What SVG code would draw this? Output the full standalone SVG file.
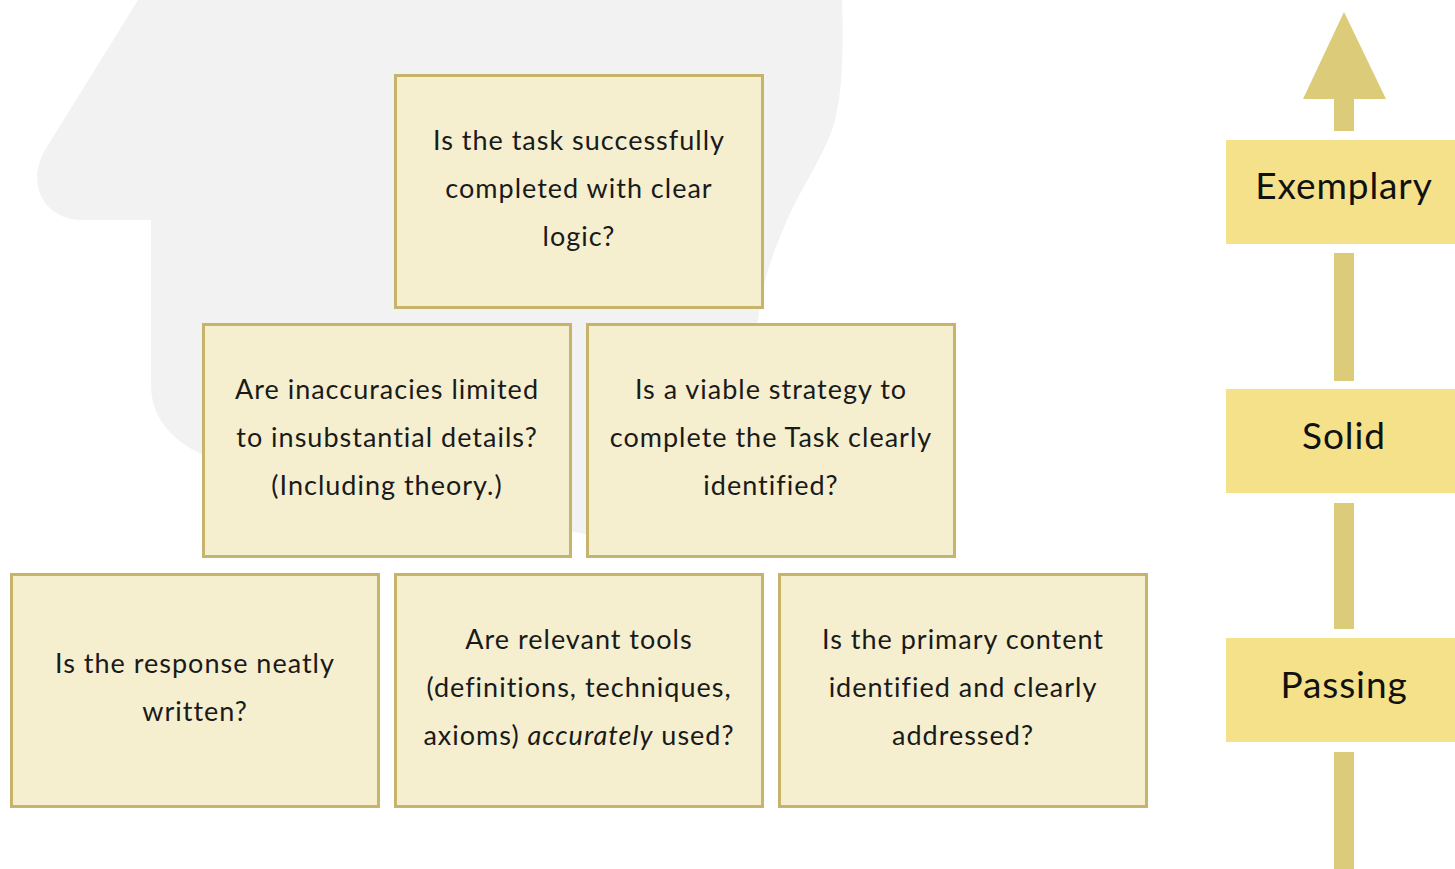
<svg xmlns="http://www.w3.org/2000/svg" width="1455" height="869" viewBox="0 0 1455 869">
  <style>
    .q rect { fill: #f5efcf; stroke: #c7b46c; stroke-width: 3; }
    .q text { font-family: Lato, "Noto Sans", sans-serif; font-size: 27px; letter-spacing: 1px; fill: #1a1a1a; text-anchor: middle; }
    .lvl rect { fill: #f4e189; }
    .lvl text { font-family: Lato, "Noto Sans", sans-serif; font-size: 37px; letter-spacing: 0.9px; fill: #111; text-anchor: middle; }
    .bar { fill: #dccb78; }
  </style>

  <!-- head silhouette behind the pyramid -->
  <path id="head" fill="#f2f2f2" d="M138,0 L842,0 C844,60 842,110 828,140 C815,170 800,190 785,225 C770,260 760,290 757,330 L755,535 L590,535 L240,468 C190,455 151,430 151,385 L151,220 L82,220 C45,220 25,185 45,150 Z"/>

  <!-- level arrow -->
  <g id="connectors">
    <polygon class="bar" points="1344,12 1386,99 1354,99 1354,131 1334,131 1334,99 1303,99"/>
    <rect class="bar" x="1334" y="253" width="20" height="128"/>
    <rect class="bar" x="1334" y="503" width="20" height="126"/>
    <rect class="bar" x="1334" y="752" width="20" height="117"/>
  </g>

  <!-- criteria boxes -->
  <g id="q-logic" class="q">
    <rect x="395.5" y="75.5" width="367" height="232"/>
    <text x="579" y="150">Is the task successfully</text>
    <text x="579" y="198">completed with clear</text>
    <text x="579" y="246">logic?</text>
  </g>
  <g id="q-inaccuracies" class="q">
    <rect x="203.5" y="324.5" width="367" height="232"/>
    <text x="387" y="399">Are inaccuracies limited</text>
    <text x="387" y="447">to insubstantial details?</text>
    <text x="387" y="495">(Including theory.)</text>
  </g>
  <g id="q-strategy" class="q">
    <rect x="587.5" y="324.5" width="367" height="232"/>
    <text x="771" y="399">Is a viable strategy to</text>
    <text x="771" y="447">complete the Task clearly</text>
    <text x="771" y="495">identified?</text>
  </g>
  <g id="q-neat" class="q">
    <rect x="11.5" y="574.5" width="367" height="232"/>
    <text x="195" y="673">Is the response neatly</text>
    <text x="195" y="721">written?</text>
  </g>
  <g id="q-tools" class="q">
    <rect x="395.5" y="574.5" width="367" height="232"/>
    <text x="579" y="649">Are relevant tools</text>
    <text x="579" y="697">(definitions, techniques,</text>
    <text x="579" y="745">axioms) <tspan font-style="italic">accurately</tspan> used?</text>
  </g>
  <g id="q-content" class="q">
    <rect x="779.5" y="574.5" width="367" height="232"/>
    <text x="963" y="649">Is the primary content</text>
    <text x="963" y="697">identified and clearly</text>
    <text x="963" y="745">addressed?</text>
  </g>

  <!-- achievement levels -->
  <g id="lvl-exemplary" class="lvl">
    <rect x="1226" y="140" width="229" height="104"/>
    <text x="1344" y="199">Exemplary</text>
  </g>
  <g id="lvl-solid" class="lvl">
    <rect x="1226" y="389" width="229" height="104"/>
    <text x="1344" y="449">Solid</text>
  </g>
  <g id="lvl-passing" class="lvl">
    <rect x="1226" y="638" width="229" height="104"/>
    <text x="1344" y="698">Passing</text>
  </g>
</svg>
